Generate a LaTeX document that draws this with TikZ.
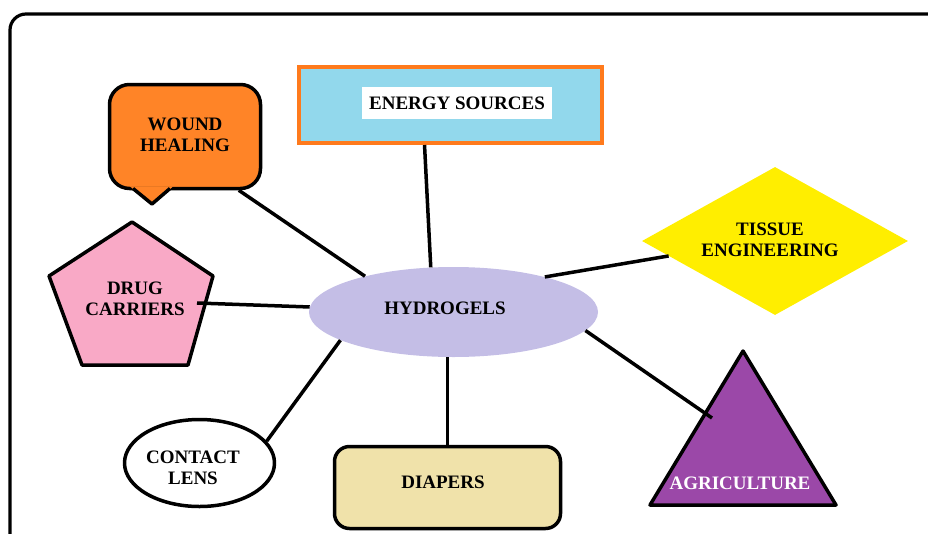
\documentclass[tikz,border=0pt]{standalone}
\usepackage{fontspec}
\setmainfont{Liberation Serif}
\usetikzlibrary{shapes.geometric}
\definecolor{hgOrange}{HTML}{FF8427}
\definecolor{hgBorder}{HTML}{FF7A1C}
\definecolor{hgSky}{HTML}{92D8EC}
\definecolor{hgYellow}{HTML}{FFEE00}
\definecolor{hgPink}{HTML}{F9A9C6}
\definecolor{hgLavender}{HTML}{C4BEE6}
\definecolor{hgSand}{HTML}{F0E2AA}
\definecolor{hgPurple}{HTML}{9B48A8}
\tikzset{
  hg edge/.style={draw=black, line width=3.5pt},
  hg outline/.style={draw=black, line width=3.5pt, line join=round},
  hg label/.style={font=\fontsize{19}{21}\selectfont\bfseries, align=center, inner sep=1pt},
  hg blob/.style={ellipse, inner sep=0pt},
}

\begin{document}
\begin{tikzpicture}[x=1pt, y=-1pt]
  \useasboundingbox (0,0) rectangle (928,533);

  % Frame, only its top left corner is on the page
  \draw[line width=3.2pt, rounded corners=16pt] (10,560) -- (10,14) -- (960,14);

  % Energy sources box with white label strip
  \node[draw=hgBorder, fill=hgSky, line width=4pt, minimum width=303pt, minimum height=76pt, inner sep=0pt] (energy) at (450.5,105) {};
  \node[hg label, fill=white, minimum width=190pt, minimum height=32pt] (energytext) at (457,103) {ENERGY SOURCES};

  % Speech bubble
  \node[hg outline, fill=hgOrange, rounded corners=20pt, minimum width=151pt, minimum height=104pt] (wound) at (185,136.5) {};
  \fill[hgOrange] (130,186.5) -- (152,204) -- (173,186.5) -- cycle;
  \draw[hg outline] (133,188.5) -- (152,204) -- (170,188.5);

  \node[diamond, fill=hgYellow, aspect=1.8, inner sep=0pt, minimum width=266pt, minimum height=148pt] (tissue) at (775,241) {};

  % Pentagon
  \draw[hg outline, fill=hgPink] (132,222) -- (213,276) -- (188,365) -- (82,365) -- (49,276) -- cycle;

  \node[hg blob, fill=hgLavender, minimum width=289pt, minimum height=90pt] (hyd) at (453.5,312) {};
  \node[hg blob, hg outline, fill=white, minimum width=150pt, minimum height=87pt] (contact) at (199.5,463) {};
  \node[hg outline, fill=hgSand, rounded corners=15pt, minimum width=226pt, minimum height=82pt] (diapers) at (447.5,487.5) {};

  % Triangle
  \draw[hg outline, fill=hgPurple] (743,351) -- (836,505) -- (650,505) -- cycle;

  % Labels
  \node[hg label] (woundtext) at (185,135) {WOUND\\HEALING};
  \node[hg label] (tissuetext) at (770,240) {TISSUE\\ENGINEERING};
  \node[hg label] (drugtext) at (135,299) {DRUG\\CARRIERS};
  \node[hg label] (hydtext) at (445,308) {HYDROGELS};
  \node[hg label] (contacttext) at (193,468) {CONTACT\\LENS};
  \node[hg label] (diaperstext) at (443,482) {DIAPERS};
  \node[hg label, text=white] (agritext) at (740,483) {AGRICULTURE};

  % Spokes out of the hub
  \coordinate (drughit) at (197,303);
  \coordinate (agrihit) at (712,418);
  \draw[hg edge] (wound.-45) -- (hyd.158);
  \draw[hg edge] (energy.-123) -- (hyd.117);
  \draw[hg edge] (hyd.21) -- (tissue.188);
  \draw[hg edge] (drughit) -- (hyd.178);
  \draw[hg edge] (contact.18) -- (hyd.194);
  \draw[hg edge] (diapers.north) -- (diapers.north |- hyd.south);
  \draw[hg edge] (hyd.-8) -- (agrihit);
\end{tikzpicture}
\end{document}
